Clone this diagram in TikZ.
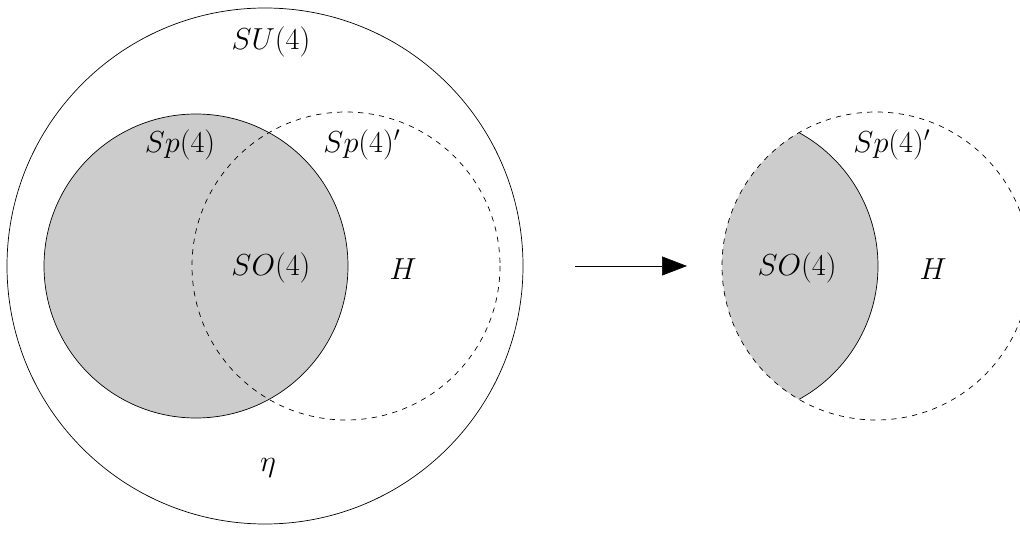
\documentclass[tikz,border=0pt]{standalone}
\usepackage{tikz}
\usetikzlibrary{arrows.meta}
\definecolor{spgray}{gray}{0.8}

\begin{document}
\begin{tikzpicture}[x=0.02cm, y=-0.02cm, >=Stealth,
    lbl/.style={font=\LARGE, inner sep=0pt}]
    \useasboundingbox (0,0) rectangle (1020,533);

    % ── Left: SU(4) with its two subgroups ───────────────────────────────────
    \draw (265,266) circle (258);
    \filldraw[fill=spgray] (196,266) circle (152);
    \draw[dashed] (346,266) circle (154);

    \node[lbl] (su4) at (271,42) {$SU(4)$};
    \node[lbl] (sp4) at (180,145) {$Sp(4)$};
    \node[lbl] (sp4p) at (362,145) {$Sp(4)'$};
    \node[lbl] (so4) at (271,268) {$SO(4)$};
    \node[lbl] (h) at (403,269) {$H$};
    \node[lbl] (eta) at (268,468) {$\eta$};

    % ── Arrow ────────────────────────────────────────────────────────────────
    \coordinate (from) at (575,266);
    \coordinate (to) at (687,266);
    \draw[-{Triangle[length=0.5cm, width=0.38cm]}] (from) -- (to);

    % ── Right: the lens SO(4) inside Sp(4)' ──────────────────────────────────
    \begin{scope}
        \clip (876,266) circle (154);
        \filldraw[fill=spgray] (726,266) circle (152);
    \end{scope}
    \draw[dashed] (876,266) circle (154);

    \node[lbl] (sp4pr) at (892,145) {$Sp(4)'$};
    \node[lbl] (so4r) at (797,268) {$SO(4)$};
    \node[lbl] (hr) at (933,269) {$H$};

\end{tikzpicture}
\end{document}
